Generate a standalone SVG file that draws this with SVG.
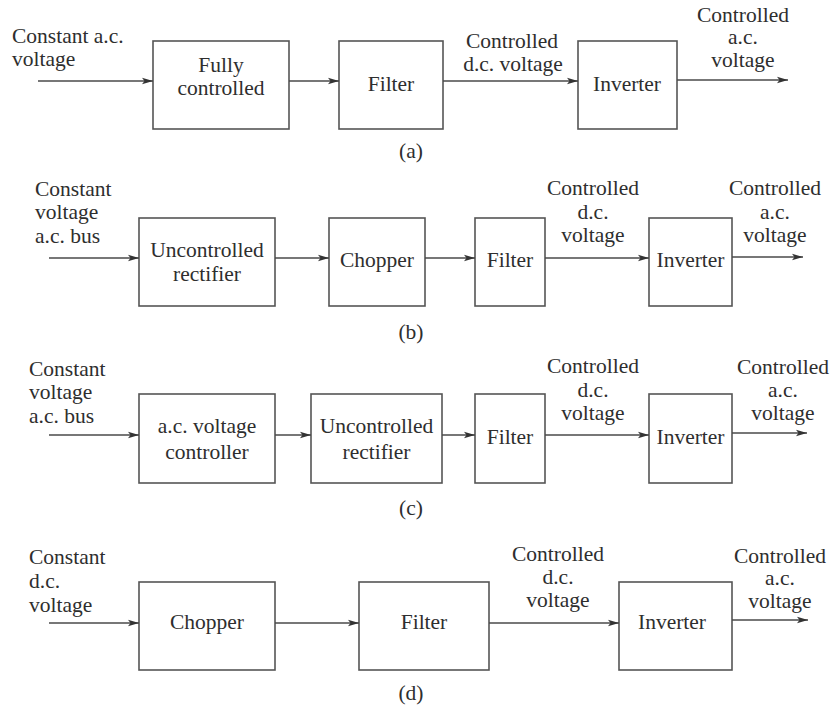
<svg xmlns="http://www.w3.org/2000/svg" width="834" height="707" viewBox="0 0 834 707">
  <style>
    .box { fill: #ffffff; stroke: #555555; stroke-width: 1.6; }
    .wire { fill: none; stroke: #4a4a4a; stroke-width: 1.5; marker-end: url(#arrow); }
    text { font-family: 'Liberation Serif', 'Tinos', 'Times New Roman', 'Times', 'Nimbus Roman', 'FreeSerif', 'DejaVu Serif', 'Noto Serif', serif; font-size: 21.5px; fill: #2e2e2e; }
    .c { text-anchor: middle; }
  </style>
  <defs>
    <marker id="arrow" markerUnits="userSpaceOnUse" markerWidth="12" markerHeight="8" refX="11" refY="4" orient="auto">
      <path d="M0,0.8 L11,4 L0,7.2 L2.5,4 z" fill="#333333"/>
    </marker>
  </defs>
  <rect width="834" height="707" fill="#ffffff"/>

  <!-- (a) fully controlled rectifier scheme -->
  <g id="a-input"><text x="12" y="43">Constant a.c.</text><text x="12" y="66">voltage</text></g>
  <g id="a-rectifier"><rect class="box" x="153" y="41" width="136" height="88"/><text class="c" x="221" y="72">Fully</text><text class="c" x="221" y="95">controlled</text></g>
  <g id="a-filter"><rect class="box" x="339" y="41" width="104" height="88"/><text class="c" x="391" y="91">Filter</text></g>
  <g id="a-dc"><text class="c" x="512" y="48">Controlled</text><text class="c" x="513" y="71">d.c. voltage</text></g>
  <g id="a-inverter"><rect class="box" x="578" y="41" width="99" height="88"/><text class="c" x="627" y="91">Inverter</text></g>
  <g id="a-output"><text class="c" x="743" y="22">Controlled</text><text class="c" x="743" y="44">a.c.</text><text class="c" x="743" y="67">voltage</text></g>
  <text class="c" x="411" y="158">(a)</text>

  <!-- (b) uncontrolled rectifier + chopper scheme -->
  <g id="b-input"><text x="35" y="196">Constant</text><text x="35" y="219">voltage</text><text x="35" y="243">a.c. bus</text></g>
  <g id="b-rectifier"><rect class="box" x="139" y="218" width="136" height="88"/><text class="c" x="207" y="257">Uncontrolled</text><text class="c" x="207" y="281">rectifier</text></g>
  <g id="b-chopper"><rect class="box" x="329" y="218" width="96" height="88"/><text class="c" x="377" y="267">Chopper</text></g>
  <g id="b-filter"><rect class="box" x="475" y="218" width="70" height="88"/><text class="c" x="510" y="267">Filter</text></g>
  <g id="b-dc"><text class="c" x="593" y="195">Controlled</text><text class="c" x="593" y="219">d.c.</text><text class="c" x="593" y="242">voltage</text></g>
  <g id="b-inverter"><rect class="box" x="649" y="218" width="83" height="88"/><text class="c" x="690.5" y="267">Inverter</text></g>
  <g id="b-output"><text class="c" x="775" y="195">Controlled</text><text class="c" x="775" y="219">a.c.</text><text class="c" x="775" y="242">voltage</text></g>
  <text class="c" x="411" y="339">(b)</text>

  <!-- (c) a.c. voltage controller scheme -->
  <g id="c-input"><text x="29" y="376">Constant</text><text x="29" y="399">voltage</text><text x="29" y="423">a.c. bus</text></g>
  <g id="c-controller"><rect class="box" x="139" y="394" width="136" height="89"/><text class="c" x="207" y="433">a.c. voltage</text><text class="c" x="207" y="459">controller</text></g>
  <g id="c-rectifier"><rect class="box" x="311" y="394" width="131" height="89"/><text class="c" x="376.5" y="433">Uncontrolled</text><text class="c" x="376.5" y="459">rectifier</text></g>
  <g id="c-filter"><rect class="box" x="475" y="394" width="70" height="89"/><text class="c" x="510" y="444">Filter</text></g>
  <g id="c-dc"><text class="c" x="593" y="373">Controlled</text><text class="c" x="593" y="397">d.c.</text><text class="c" x="593" y="420">voltage</text></g>
  <g id="c-inverter"><rect class="box" x="649" y="394" width="83" height="89"/><text class="c" x="690.5" y="444">Inverter</text></g>
  <g id="c-output"><text class="c" x="783" y="374">Controlled</text><text class="c" x="783" y="397">a.c.</text><text class="c" x="783" y="420">voltage</text></g>
  <text class="c" x="411" y="515">(c)</text>

  <!-- (d) d.c. supply with chopper scheme -->
  <g id="d-input"><text x="29" y="564">Constant</text><text x="29" y="588">d.c.</text><text x="29" y="612">voltage</text></g>
  <g id="d-chopper"><rect class="box" x="139" y="582" width="136" height="88"/><text class="c" x="207" y="629">Chopper</text></g>
  <g id="d-filter"><rect class="box" x="359" y="582" width="130" height="88"/><text class="c" x="424" y="629">Filter</text></g>
  <g id="d-dc"><text class="c" x="558" y="561">Controlled</text><text class="c" x="558" y="584">d.c.</text><text class="c" x="558" y="607">voltage</text></g>
  <g id="d-inverter"><rect class="box" x="619" y="582" width="113" height="88"/><text class="c" x="672" y="629">Inverter</text></g>
  <g id="d-output"><text class="c" x="780" y="563">Controlled</text><text class="c" x="780" y="585">a.c.</text><text class="c" x="780" y="608">voltage</text></g>
  <text class="c" x="411" y="700">(d)</text>

  <g id="connectors">
    <line class="wire" x1="38" y1="81" x2="153" y2="81"/>
    <line class="wire" x1="289" y1="81" x2="339" y2="81"/>
    <line class="wire" x1="443" y1="81" x2="578" y2="81"/>
    <line class="wire" x1="677" y1="80" x2="788" y2="80"/>

    <line class="wire" x1="49" y1="258" x2="139" y2="258"/>
    <line class="wire" x1="275" y1="258" x2="329" y2="258"/>
    <line class="wire" x1="425" y1="258" x2="475" y2="258"/>
    <line class="wire" x1="545" y1="258" x2="649" y2="258"/>
    <line class="wire" x1="732" y1="257" x2="803" y2="257"/>

    <line class="wire" x1="49" y1="435" x2="139" y2="435"/>
    <line class="wire" x1="275" y1="435" x2="311" y2="435"/>
    <line class="wire" x1="442" y1="435" x2="475" y2="435"/>
    <line class="wire" x1="545" y1="435" x2="649" y2="435"/>
    <line class="wire" x1="732" y1="433" x2="807" y2="433"/>

    <line class="wire" x1="49" y1="623" x2="139" y2="623"/>
    <line class="wire" x1="275" y1="623" x2="359" y2="623"/>
    <line class="wire" x1="489" y1="623" x2="619" y2="623"/>
    <line class="wire" x1="732" y1="620" x2="808" y2="620"/>
  </g>
</svg>
